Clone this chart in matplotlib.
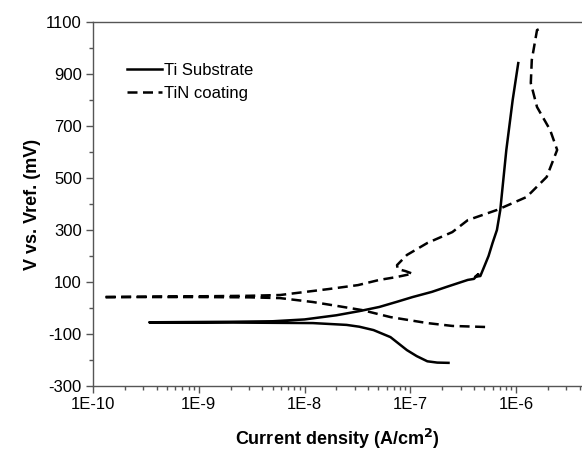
import matplotlib
matplotlib.use("Agg")
import matplotlib.pyplot as plt
from matplotlib.ticker import FixedLocator, LogLocator, NullFormatter

plt.rcParams['font.family'] = ['Liberation Sans', 'DejaVu Sans']
plt.rcParams['axes.unicode_minus'] = False

# Ti substrate: cathodic branch (right to left), then anodic branch
ti_x = [2.3e-7, 1.8e-7, 1.45e-7, 1.15e-7, 9.3e-8, 6.5e-8, 4.5e-8, 3.3e-8, 2.5e-8, 1.2e-8, 5e-9, 2e-9, 8e-10, 3.4e-10,
        8e-10, 2e-9, 5e-9, 1e-8, 2e-8, 3.3e-8, 5.1e-8, 7.5e-8, 1.05e-7, 1.6e-7, 2.2e-7, 3.5e-7,
        4.0e-7, 4.4e-7, 4.1e-7, 4.6e-7, 4.9e-7, 5.5e-7, 6e-7, 6.6e-7, 7.1e-7, 8.1e-7, 9.3e-7, 1.05e-6]
ti_y = [-211, -210, -205, -185, -162, -112, -85, -72, -65, -58, -57, -56, -56, -55,
        -54, -53, -51, -44, -28, -12, 4, 24, 42, 62, 81, 108,
        112, 130, 120, 123, 150, 200, 250, 300, 377, 608, 800, 942]

# TiN coating: cathodic branch (right to left), then anodic branch
tin_x = [5.1e-7, 2.5e-7, 1.45e-7, 6.5e-8, 3.5e-8, 2.1e-8, 1.2e-8, 5.9e-9, 3e-9, 1e-9, 4e-10, 1.24e-10,
         4e-10, 1e-9, 3e-9, 5.9e-9, 1.7e-8, 3.2e-8, 5.1e-8, 7.4e-8, 1.05e-7, 9e-8, 7.6e-8, 7.5e-8,
         9.3e-8, 1.45e-7, 2.5e-7, 3.5e-7, 6.6e-7, 1.26e-6, 1.95e-6, 2.45e-6, 2.1e-6, 1.58e-6,
         1.38e-6, 1.41e-6, 1.58e-6, 1.7e-6]
tin_y = [-73, -69, -58, -35, -8, 7, 23, 38, 41, 42, 42, 42,
         44, 45, 47, 50, 73, 88, 108, 119, 132, 142, 150, 165,
         204, 250, 292, 338, 377, 427, 504, 608, 685, 773,
         865, 954, 1069, 1075]

y_ticks = [-300, -100, 100, 300, 500, 700, 900, 1100]
x_ticks = [1e-10, 1e-9, 1e-8, 1e-7, 1e-6]
x_labels = ['1E-10', '1E-9', '1E-8', '1E-7', '1E-6']

fig = plt.figure(figsize=(5.82, 4.54), dpi=100)
ax = fig.add_axes([93 / 582, 1 - 386 / 454, 1 - 93 / 582, (386 - 22) / 454])

ax.plot(ti_x, ti_y, color='black', lw=1.8, label='Ti Substrate')
ax.plot(tin_x, tin_y, color='black', lw=1.8, linestyle=(0, (4, 2.2)), label='TiN coating')

ax.set_xscale('log')
ax.set_xlim(1e-10, 10 ** -5.376)
ax.set_ylim(-300, 1100)

ax.set_xticks(x_ticks)
ax.set_xticklabels(x_labels)
ax.xaxis.set_minor_locator(LogLocator(base=10, subs=range(2, 10)))
ax.xaxis.set_minor_formatter(NullFormatter())
ax.set_yticks(y_ticks)
ax.yaxis.set_minor_locator(FixedLocator(range(-200, 1100, 200)))

for s in ['left', 'bottom', 'top']:
    ax.spines[s].set_color('#555555')
    ax.spines[s].set_linewidth(1.0)
ax.spines['right'].set_visible(False)

ax.tick_params(which='major', direction='out', length=5, width=1, color='#555555',
               labelsize=12, pad=3)
ax.tick_params(which='minor', direction='out', length=3, width=1, color='#555555')

ax.set_xlabel('Current density (A/cm$^\\mathbf{2}$)', fontsize=13, fontweight='bold', labelpad=11)
ax.set_ylabel('V vs. Vref. (mV)', fontsize=13, fontweight='bold', labelpad=4)

ax.legend(loc='upper left', bbox_to_anchor=(0.055, 0.905), frameon=False, fontsize=12,
          handlelength=2.1, handletextpad=0.15, labelspacing=0.45, borderaxespad=0)

fig.savefig('out.png', dpi=100)
